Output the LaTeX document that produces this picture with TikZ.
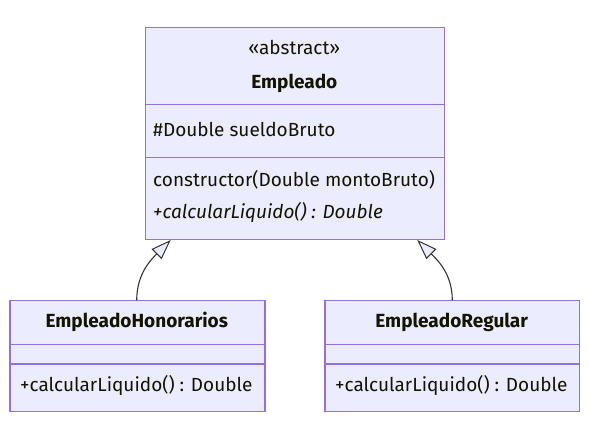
\documentclass[tikz,border=0pt]{standalone}
\usepackage{fontspec}
\setmainfont{Fira Sans}
\usetikzlibrary{arrows.meta}
\definecolor{boxfill}{HTML}{ECECFF}
\definecolor{boxline}{HTML}{9370DB}
\definecolor{edgecol}{HTML}{333333}
\definecolor{txt}{HTML}{131300}
\begin{document}
\begin{tikzpicture}[x=1pt,y=1pt,
  umlbox/.style={draw=boxline, fill=boxfill, line width=1.2pt, rectangle, inner sep=0pt, anchor=north west},
  divider/.style={draw=boxline, line width=1.2pt},
  lbl/.style={text=txt, inner sep=0pt, font=\fontsize{19}{22}\selectfont},
  boldlbl/.style={lbl, font=\fontsize{19}{22}\selectfont\bfseries},
  itlbl/.style={lbl, font=\fontsize{19}{22}\selectfont\itshape},
  inherit/.style={draw=edgecol, line width=1.1pt, -{Triangle[length=20pt,width=14pt,fill=boxfill,line width=1pt]}}
]
\useasboundingbox[fill=white] (0,0) rectangle (589,-438);
% Empleado
\node[umlbox, minimum width=299.5pt, minimum height=212pt] (emp) at (144.5,-27) {};
\draw[divider] (144.5,-104.3) -- (444,-104.3);
\draw[divider] (144.5,-157.7) -- (444,-157.7);
\node[lbl, anchor=base] (empst) at (294.3,-55) {«abstract»};
\node[boldlbl, anchor=base] (empname) at (294.3,-88.3) {Empleado};
\node[lbl, anchor=base west] (empattr) at (153,-136.7) {\#Double sueldoBruto};
\node[lbl, anchor=base west] (empm1) at (153,-186.7) {constructor(Double montoBruto)};
\node[itlbl, anchor=base west] (empm2) at (153,-218.3) {+calcularLiquido() : Double};
% EmpleadoHonorarios
\node[umlbox, minimum width=255pt, minimum height=110.7pt] (hon) at (9.3,-300.3) {};
\draw[divider] (9.3,-344.3) -- (264.3,-344.3);
\draw[divider] (9.3,-364) -- (264.3,-364);
\node[boldlbl, anchor=base] (honname) at (136.8,-327.3) {EmpleadoHonorarios};
\node[lbl, anchor=base west] (honm) at (20,-391) {+calcularLiquido() : Double};
% EmpleadoRegular
\node[umlbox, minimum width=254.7pt, minimum height=110.7pt] (reg) at (324.3,-300.3) {};
\draw[divider] (324.3,-344.3) -- (579,-344.3);
\draw[divider] (324.3,-364) -- (579,-364);
\node[boldlbl, anchor=base] (regname) at (451.7,-327.3) {EmpleadoRegular};
\node[lbl, anchor=base west] (regm) at (335,-391) {+calcularLiquido() : Double};
% connectors
\coordinate (tipL) at (170.7,-240);
\coordinate (tipR) at (417.3,-240);
\draw[inherit] (hon.north -| 136.7,0) to[out=90,in=-135] (tipL);
\draw[inherit] (reg.north -| 452.3,0) to[out=90,in=-45] (tipR);
\end{tikzpicture}
\end{document}
